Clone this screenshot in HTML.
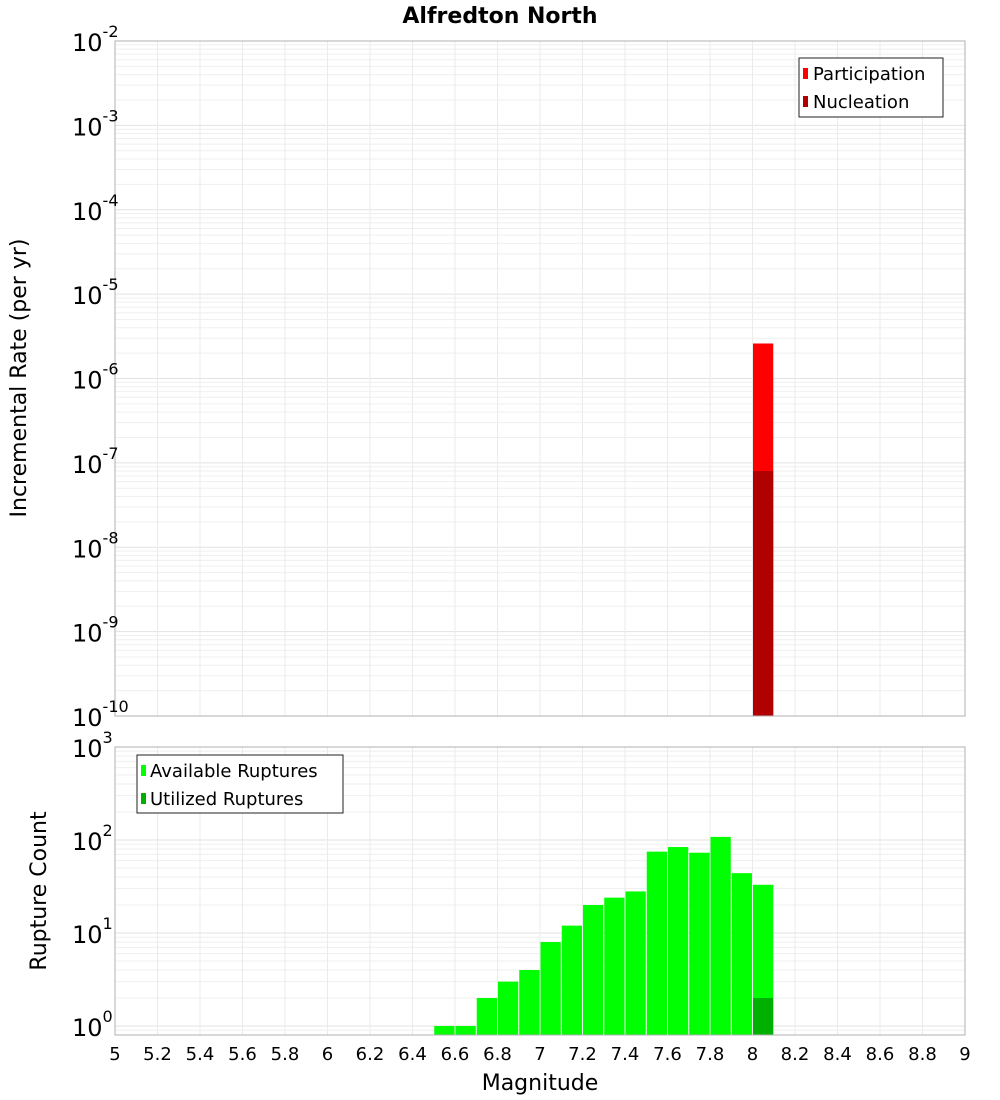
<!DOCTYPE html>
<html><head><meta charset="utf-8"><style>
body{margin:0;background:#fff}
svg{display:block;font-family:"DejaVu Sans","Liberation Sans",sans-serif}
</style></head><body>
<svg id="c" width="1000" height="1100" viewBox="0 0 1000 1100"></svg>
<script>
const topCats=[8.05];
const participation=[2.6e-6];
const nucleation=[8e-8];
const botCats=[6.55,6.65,6.75,6.85,6.95,7.05,7.15,7.25,7.35,7.45,7.55,7.65,7.75,7.85,7.95,8.05];
const available=[1,1,2,3,4,8,12,20,24,28,75,84,73,108,44,33];
const utilizedCats=[8.05];
const utilized=[2];
const xTicks=[5,5.2,5.4,5.6,5.8,6,6.2,6.4,6.6,6.8,7,7.2,7.4,7.6,7.8,8,8.2,8.4,8.6,8.8,9];
const topExp=[-2,-3,-4,-5,-6,-7,-8,-9,-10];
const botExp=[3,2,1,0];

const NS="http://www.w3.org/2000/svg";
const svg=document.getElementById('c');
function el(t,a,p){const e=document.createElementNS(NS,t);for(const k in a)e.setAttribute(k,a[k]);(p||svg).appendChild(e);return e;}
const X0=115,X1=965;
const x=v=>X0+(v-5)/(9-5)*(X1-X0);
const T0=41,T1=716, yT=v=>T0+(-2-Math.log10(v))/8*(T1-T0);
const B0=747,B1=1035, yB=v=>B0+(3-Math.log10(v))*93;

function grid(y0,y1,yf,lo,hi){
  for(let d=lo;d<hi;d++)for(let m=1;m<10;m++){const yy=yf(m*Math.pow(10,d));if(yy<y0||yy>y1)continue;
    el('line',{x1:X0,x2:X1,y1:yy,y2:yy,stroke:m==1?'#e2e2e2':'#efefef','stroke-width':1});}
  xTicks.forEach(t=>el('line',{x1:x(t),x2:x(t),y1:y0,y2:y1,stroke:'#ebebeb','stroke-width':1}));
}
grid(T0,T1,yT,-10,-1);
grid(B0,B1,yB,-1,4);

// top bars
const w=(x(5.1)-x(5))-1;
topCats.forEach((c,i)=>{
  const b=el('rect',{x:x(c)-w/2,y:yT(participation[i]),width:w,height:T1-yT(participation[i]),fill:'#ff0000'});
  
  
  const n=el('rect',{x:x(c)-w/2,y:yT(nucleation[i]),width:w,height:T1-yT(nucleation[i]),fill:'#b00000'});
  
  
});
botCats.forEach((c,i)=>{
  const b=el('rect',{x:x(c)-w/2,y:yB(available[i]),width:w,height:B1-yB(available[i]),fill:'#00ff00'});
  
  
});
utilizedCats.forEach((c,i)=>{
  const b=el('rect',{x:x(c)-w/2,y:yB(utilized[i]),width:w,height:B1-yB(utilized[i]),fill:'#00b000'});
  
  
});
el('rect',{x:X0,y:T0,width:X1-X0,height:T1-T0,fill:'none',stroke:'#b0b0b0'});
el('rect',{x:X0,y:B0,width:X1-X0,height:B1-B0,fill:'none',stroke:'#b0b0b0'});

function powLabel(yy,e,name){
  const t=el('text',{x:72,y:yy+10,'font-size':24,fill:'#000'});
  
  
  t.textContent='10';
  const s=el('tspan',{dy:-14,'font-size':16},t);s.textContent=e;
}
topExp.forEach(e=>powLabel(yT(Math.pow(10,e)),e,'top-y-tick'));
botExp.forEach(e=>powLabel(yB(Math.pow(10,e)),e,'bottom-y-tick'));
xTicks.forEach(t=>{const tx=el('text',{x:x(t),y:1060,'font-size':18,'text-anchor':'middle'});
  
  
  tx.textContent=String(t);});

function txt(s,a,name){const t=el('text',a);t.textContent=s;return t;}
txt('Alfredton North',{x:500,y:23,'font-size':22,'font-weight':'bold','text-anchor':'middle'},'chart-title');
txt('Magnitude',{x:540,y:1090,'font-size':22,'text-anchor':'middle'},'x-axis-title');
txt('Incremental Rate (per yr)',{x:26,y:378,'font-size':22,'text-anchor':'middle',transform:'rotate(-90 26 378)'},'top-y-axis-title');
txt('Rupture Count',{x:46,y:891,'font-size':22,'text-anchor':'middle',transform:'rotate(-90 46 891)'},'bottom-y-axis-title');

// legends
const lg1=el('g',{});
el('rect',{x:799,y:58,width:144,height:59,fill:'#fff',stroke:'#222'},lg1);
el('rect',{x:803,y:68,width:5,height:11,fill:'#ff0000'},lg1);
el('rect',{x:803,y:96,width:5,height:11,fill:'#b00000'},lg1);
let t=el('text',{x:813,y:80,'font-size':18},lg1);t.textContent='Participation';
t=el('text',{x:813,y:108,'font-size':18},lg1);t.textContent='Nucleation';
const lg2=el('g',{});
el('rect',{x:137,y:755,width:206,height:58,fill:'#fff',stroke:'#222'},lg2);
el('rect',{x:141,y:765,width:5,height:11,fill:'#00ff00'},lg2);
el('rect',{x:141,y:793,width:5,height:11,fill:'#00b000'},lg2);
t=el('text',{x:150,y:777,'font-size':18},lg2);t.textContent='Available Ruptures';
t=el('text',{x:150,y:805,'font-size':18},lg2);t.textContent='Utilized Ruptures';
</script>
</body></html>
